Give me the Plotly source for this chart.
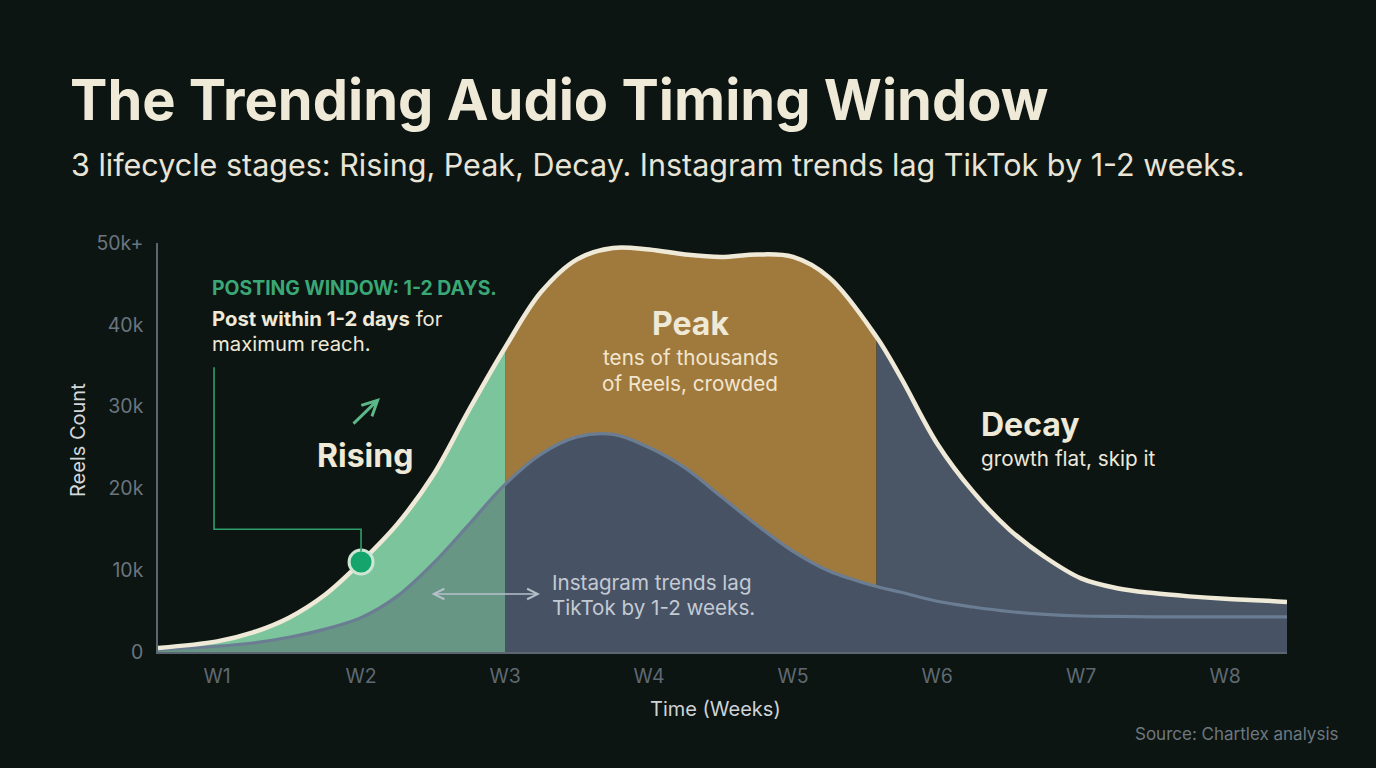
import plotly.graph_objects as go

# ---------------- data ----------------
weeks = [0.59, 1.0, 1.25, 1.5, 1.75, 2.0, 2.25, 2.5, 2.75, 3.0, 3.25, 3.5, 3.75, 4.0,
         4.25, 4.5, 4.75, 5.0, 5.25, 5.58, 5.75, 6.0, 6.25, 6.5, 6.75, 7.0, 7.25,
         7.5, 7.75, 8.0, 8.25, 8.43]
tiktok_k = [0.5, 1.3, 2.4, 4.2, 7.0, 11.0, 15.6, 21.6, 29.6, 37.2, 44.0, 48.0, 49.4, 49.2,
            48.6, 48.3, 48.6, 48.3, 45.8, 38.5, 33.5, 25.5, 19.6, 15.0, 11.6, 9.0, 7.8,
            7.2, 6.8, 6.5, 6.3, 6.1]
instagram_k = [0.3, 0.7, 1.1, 1.8, 2.8, 4.2, 6.8, 10.8, 15.6, 20.5, 24.2, 26.3, 26.6, 25.0,
               22.5, 19.0, 15.5, 12.3, 9.9, 8.0, 7.3, 6.2, 5.5, 4.95, 4.6, 4.4, 4.35,
               4.3, 4.3, 4.3, 4.3, 4.3]
rising_end = 3.0
peak_end = 5.58
post_point_week = 2.0

x_tickvals = [1, 2, 3, 4, 5, 6, 7, 8]
x_ticktext = ["W1", "W2", "W3", "W4", "W5", "W6", "W7", "W8"]
y_tickvals = [0, 10, 20, 30, 40, 50]
y_ticktext = ["0", "10k", "20k", "30k", "40k", "50k+"]

# ---------------- styles ----------------
BG = "#0c1511"
CREAM = "#efe9d8"
GREEN_FILL = "#7cc49b"
ORANGE_FILL = "#a0793d"
SLATE_FILL = "#4a5566"
IG_FILL = "#475264"
IG_LINE = "#6b7d92"
FONT = "Inter"

L, R, T, B = 158, 1287, 243, 652


def pxx(x):
    return (x - L) / (R - L)


def pxy(y):
    return (B - y) / (B - T)


def seg(x0, x1, ys):
    xs, vs = [], []
    for w, v in zip(weeks, ys):
        if x0 - 1e-9 <= w <= x1 + 1e-9:
            xs.append(w)
            vs.append(v)
    return xs, vs


fig = go.Figure()

# stage fills under TikTok curve
for (a, b, col) in [(weeks[0], rising_end, GREEN_FILL),
                    (rising_end, peak_end, ORANGE_FILL),
                    (peak_end, weeks[-1], SLATE_FILL)]:
    xs, vs = seg(a, b, tiktok_k)
    fig.add_trace(go.Scatter(x=xs, y=vs, mode="lines", line=dict(width=0, shape="spline"),
                             fill="tozeroy", fillcolor=col, hoverinfo="skip", showlegend=False))

# Instagram area
xs, vs = seg(weeks[0], rising_end, instagram_k)
fig.add_trace(go.Scatter(x=xs, y=vs, mode="lines", line=dict(width=0, shape="spline"),
                         fill="tozeroy", fillcolor="rgba(74,85,102,0.42)", hoverinfo="skip",
                         showlegend=False))
xs, vs = seg(rising_end, weeks[-1], instagram_k)
fig.add_trace(go.Scatter(x=xs, y=vs, mode="lines", line=dict(width=0, shape="spline"),
                         fill="tozeroy", fillcolor=IG_FILL, hoverinfo="skip", showlegend=False))
fig.add_trace(go.Scatter(x=weeks, y=instagram_k, mode="lines",
                         line=dict(color=IG_LINE, width=3.2, shape="spline"),
                         name="Instagram", showlegend=False))

# TikTok line
fig.add_trace(go.Scatter(x=weeks, y=tiktok_k, mode="lines",
                         line=dict(color=CREAM, width=4.5, shape="spline"),
                         name="TikTok", showlegend=False))

# connector to posting point
post_val = tiktok_k[weeks.index(post_point_week)]
fig.add_shape(type="path",
              path=f"M 0.979,34.8 L 0.979,15.0 L {post_point_week},15.0 L {post_point_week},{post_val + 1.3}",
              line=dict(color="#2f9e6c", width=1.6), layer="above")

# posting point marker
fig.add_trace(go.Scatter(x=[post_point_week], y=[post_val], mode="markers",
                         marker=dict(size=24, color="#13a56b", line=dict(color="#cde6d3", width=3)),
                         hoverinfo="skip", showlegend=False))

ann = []


def text(x, y, s, size, color, xanchor="left", bold=False, **kw):
    ann.append(dict(x=pxx(x), y=pxy(y), xref="paper", yref="paper", text=(f"<b>{s}</b>" if bold else s),
                    showarrow=False, xanchor=xanchor, yanchor="middle",
                    font=dict(family=FONT, size=size, color=color), **kw))


# title & subtitle
text(68, 100, "The Trending Audio Timing Window", 56, CREAM, bold=True)
text(69, 164, "3 lifecycle stages: Rising, Peak, Decay. Instagram trends lag TikTok by 1-2 weeks.", 30.5,
     "#e8e4d6")

# posting window
text(210, 288, "POSTING WINDOW: 1-2 DAYS.", 19.4, "#3aa876", bold=True)
text(210, 318, "<b>Post within 1-2 days</b> for", 20.3, CREAM)
text(210, 343, "maximum reach.", 20.3, CREAM)

# stages
text(365, 455, "Rising", 32, CREAM, xanchor="center", bold=True)
text(690, 323, "Peak", 32, CREAM, xanchor="center", bold=True)
text(690, 357, "tens of thousands", 20.7, "#f2e6cf", xanchor="center")
text(690, 383, "of Reels, crowded", 20.7, "#f2e6cf", xanchor="center")
text(979, 424, "Decay", 32, CREAM, bold=True)
text(979, 458, "growth flat, skip it", 20.7, "#ece8dc")

# instagram note
text(550, 582, "Instagram trends lag", 20.6, "#c3cad3")
text(550, 607, "TikTok by 1-2 weeks.", 20.6, "#c3cad3")

# axis titles and source
text(78, 440, "Reels Count", 20, "#d3d6da", xanchor="center", textangle=-90)
text(715, 709, "Time (Weeks)", 20, "#cfd3d7", xanchor="center")
text(1341, 734, "Source: Chartlex analysis", 17, "#6d7880", xanchor="right")

# arrows
ann.append(dict(x=pxx(540), y=pxy(594), ax=-110, ay=0, xref="paper", yref="paper",
                text="", showarrow=True, arrowhead=5, startarrowhead=5,
                arrowside="end+start", arrowsize=1.3, startarrowsize=1.3, arrowwidth=1.6,
                arrowcolor="#b7c0ca"))
ann.append(dict(x=pxx(380), y=pxy(398), ax=-28, ay=27, xref="paper", yref="paper",
                text="", showarrow=True, arrowhead=5, arrowsize=1.0,
                arrowwidth=3, arrowcolor="#5cb888"))

fig.update_layout(
    width=1376, height=768,
    margin=dict(l=L, r=1376 - R, t=T, b=768 - B),
    paper_bgcolor=BG, plot_bgcolor=BG,
    annotations=ann,
    xaxis=dict(range=[weeks[0], weeks[-1]], tickvals=x_tickvals, ticktext=x_ticktext,
               showgrid=False, zeroline=False, showline=True, linecolor="#5c6670", linewidth=1.5,
               ticks="", tickfont=dict(family=FONT, size=19.5, color="#5f6973"),
               ticklabelstandoff=6),
    yaxis=dict(range=[0, 50], tickvals=y_tickvals, ticktext=y_ticktext,
               showgrid=False, zeroline=False, showline=True, linecolor="#5c6670", linewidth=1.5,
               ticks="", tickfont=dict(family=FONT, size=19.5, color="#6b7580"),
               ticklabelstandoff=9),
    hovermode=False,
)

fig.write_html("out.html")
